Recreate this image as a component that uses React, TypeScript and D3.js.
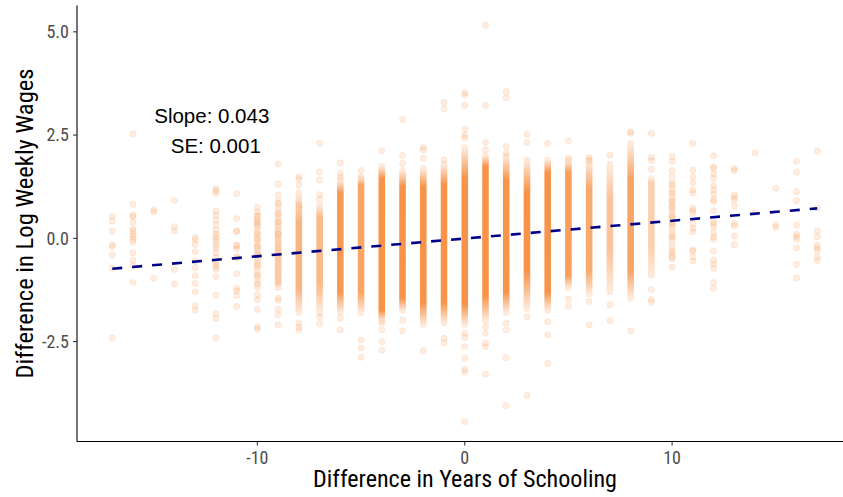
import React from 'react';
import * as d3 from 'd3';

// x = difference in years of schooling (one column of points per value)
const schoolingDiff = [-17, -16, -15, -14, -13, -12, -11, -10, -9, -8, -7, -6, -5, -4, -3, -2, -1, 0, 1, 2, 3, 4, 5, 6, 7, 8, 9, 10, 11, 12, 13, 14, 15, 16, 17];

// outer range where points overlap lightly
const spreadRange: ([number, number] | null)[] = [
  null, null, null, null, null, null, null,
  [-1.2, 0.55], [-1.2, 0.9], [-1.8, 1.1], [-1.8, 0.8], [-1.8, 1.4], [-1.8, 1.45], [-2.0, 1.75],
  [-1.75, 1.65], [-2.1, 1.7], [-2.05, 1.8], [-2.1, 2.2], [-2.0, 2.0], [-1.8, 2.0], [-1.7, 1.9],
  [-1.75, 1.9], [-1.2, 1.9], [-1.35, 1.9], [-1.3, 1.8], [-1.45, 2.3], [-0.9, 1.45], [-0.5, 1.5],
  null, null, null, null, null, null, null,
];

// inner range where points pile up into a solid stripe
const denseRange: ([number, number] | null)[] = [
  null, null, null, null, null, null, null,
  null, [-1.1, -0.2], [-1.2, 0.4], [-1.1, 0.5], [-1.3, 1.1], [-1.3, 1.3], [-1.75, 1.45],
  [-1.45, 1.25], [-1.55, 1.25], [-1.55, 1.3], [-1.6, 1.45], [-1.4, 1.75], [-1.3, 1.4], [-0.8, 1.15],
  [-1.3, 1.6], [-0.9, 1.6], [-0.8, 1.2], [-0.3, 1.0], [-0.8, 1.45], [-0.2, 1.35], null,
  null, null, null, null, null, null, null,
];
const denseShare = [
  0, 0, 0, 0, 0, 0, 0,
  0, 0.5, 0.7, 0.65, 0.95, 0.85, 1,
  1, 1, 1, 1, 1, 1, 1,
  1, 0.9, 0.8, 0.55, 0.85, 0.45, 0,
  0, 0, 0, 0, 0, 0, 0,
];

// individually visible points (difference in log weekly wages)
const loosePoints: number[][] = [
  [0.54, 0.42, 0.18, -0.16, -0.2, -0.4, -0.72, -2.41],
  [2.53, 0.82, 0.56, 0.52, 0.39, 0.23, 0.18, 0.1, 0.04, -0.03, -0.09, -0.35, -0.53, -0.66, -1.07],
  [0.69, 0.64, -0.97],
  [0.92, 0.28, 0.18, -0.75, -1.11],
  [0.02, -0.04, -0.15, -0.32, -0.55, -0.71, -0.9, -1.09, -1.29, -1.63, -1.74],
  [1.21, 1.15, 1.09, 0.66, 0.56, 0.44, 0.32, 0.2, 0.1, 0.04, -0.02, -0.09, -0.18, -0.24, -0.35, -0.46, -0.55, -0.63, -0.69, -0.75, -0.93, -1.37, -1.82, -1.94, -2.41],
  [1.08, 0.48, 0.18, 0.16, -0.16, -0.19, -0.25, -0.44, -0.48, -0.86, -1.21, -1.27, -1.39, -1.65],
  [0.75, 0.64, 0.54, 0.45, 0.38, 0.3, 0.12, -0.02, -0.2, -0.4, -0.65, -0.9, -1.1, -1.37, -1.49, -1.72, -2.14, -2.2],
  [1.8, 1.31, 1.05, 0.85, 0.6, 0.4, 0.1, -1.45, -1.5, -1.72, -1.85, -2.1],
  [1.49, 1.43, 1.29, 0.8, -2.05, -2.15, -2.22],
  [2.3, 1.61, 1.41, 1.06, 0.95, -1.9, -2.06],
  [1.83, 1.57, 1.48, -1.94, -2.22],
  [1.64, 1.48, -2.46, -2.66, -2.88],
  [2.12, -2.05, -2.22, -2.5, -2.71],
  [2.88, 2.01, 1.82, -1.98, -2.24],
  [2.2, 2.14, 1.94, -2.72],
  [3.29, 3.14, 1.9, -2.42, -2.53],
  [3.53, 3.47, 3.22, 2.64, 2.5, 2.43, -2.3, -2.4, -2.62, -2.9, -3.17, -3.24, -4.44],
  [5.16, 3.22, 2.32, 2.14, -2.14, -2.3, -2.54, -2.62, -3.29],
  [3.55, 3.4, 2.22, 2.06, -2.05, -2.22, -2.89, -4.05],
  [2.52, 2.32, -1.9, -3.8],
  [2.3, -2.02, -2.34, -3.03],
  [2.36, 1.94, -1.47, -1.64],
  [1.96, 1.88, -1.53, -2.1],
  [2.02, -1.61, -1.99],
  [2.58, 2.54, -2.24],
  [2.54, 1.96, 1.88, 1.67, -1.24, -1.48, -1.55],
  [1.98, 1.86, 1.64, 1.3, 1.1, 0.9, 0.75, 0.5, 0.35, 0.04, -0.32, -0.45, -0.69],
  [2.3, 1.65, 1.49, 1.35, 1.17, 1.1, 0.73, 0.67, 0.61, 0.36, 0.24, 0.16, -0.28, -0.31, -0.45, -0.55],
  [2.0, 1.73, 1.69, 1.56, 1.45, 1.27, 1.17, 1.07, 0.94, 0.89, 0.67, 0.4, 0.35, 0.28, 0.14, 0.04, -0.02, -0.31, -0.53, -0.62, -0.73, -1.07, -1.21],
  [1.69, 1.64, 1.05, 0.99, 0.93, 0.78, 0.36, 0.3, 0.06, -0.16],
  [2.07, 0.61],
  [1.21, 0.32, 0.26],
  [1.86, 1.6, 1.13, 0.91, 0.32, 0.1, 0.04, -0.02, -0.23, -0.63, -0.96],
  [2.11, 0.73, 0.18, 0.04, -0.16, -0.23, -0.3, -0.45, -0.54],
];

const slope = 0.043;
const slopeSE = 0.001;
const intercept = -0.005;
const yTicks = [-2.5, 0, 2.5, 5];
const xTicks = [-10, 0, 10];

const W = 843;
const H = 497;
const dotColor = '#f7944a';
const spreadAlpha = 0.32;
const condensed = '"Roboto Condensed", Roboto, "DejaVu Sans Condensed", sans-serif';

export default function App() {
  const x = d3.scaleLinear().domain([-18.7, 18.7]).range([77, 852.5]);
  const y = d3.scaleLinear().domain([-4.92, 5.64]).range([441.5, 5.4]);

  const fitLine = d3.line<number>()
    .x(d => x(d))
    .y(d => y(intercept + slope * d));
  const xExtent = d3.extent(schoolingDiff) as [number, number];

  const left = x.range()[0];
  const bottom = y.range()[0];

  return (
    <svg width={W} height={H} style={{ position: 'absolute', left: 0, top: 0, background: '#fff' }}>
      <defs>
        {schoolingDiff.map((sd, i) => {
          const sr = spreadRange[i];
          const dr = denseRange[i];
          if (!sr) return null;
          const top = y(sr[1]);
          const bot = y(sr[0]);
          const off = (v: number) => (y(v) - top) / (bot - top);
          const a = denseShare[i];
          return (
            <linearGradient key={sd} id={`col${i}`} gradientUnits="userSpaceOnUse"
              x1={0} x2={0} y1={top} y2={bot}>
              <stop offset={0} stopColor={dotColor} stopOpacity={spreadAlpha * 0.6} />
              {dr && <stop offset={off(dr[1])} stopColor={dotColor} stopOpacity={a} />}
              {dr && <stop offset={off(dr[0])} stopColor={dotColor} stopOpacity={a} />}
              {!dr && <stop offset={0.5} stopColor={dotColor} stopOpacity={spreadAlpha} />}
              <stop offset={1} stopColor={dotColor} stopOpacity={spreadAlpha * 0.6} />
            </linearGradient>
          );
        })}
      </defs>

      {/* point columns */}
      <g>
        {schoolingDiff.map((sd, i) => {
          const sr = spreadRange[i];
          return (
            <g key={sd}>
              {sr && (
                <line x1={x(sd)} x2={x(sd) + 0.01} y1={y(sr[0])} y2={y(sr[1])}
                  stroke={`url(#col${i})`} strokeWidth={6.6} strokeLinecap="round" />
              )}
              {loosePoints[i].map((v, j) => (
                <circle key={j} cx={x(sd)} cy={y(v)} r={3.1}
                  fill={dotColor} fillOpacity={0.17}
                  stroke={dotColor} strokeOpacity={0.17} strokeWidth={0.8} />
              ))}
            </g>
          );
        })}
      </g>

      {/* regression line */}
      <path d={fitLine(xExtent) || ''} fill="none" stroke="#00008b" strokeWidth={2.6}
        strokeDasharray="10,10" />

      {/* annotation */}
      <g fontFamily='"Liberation Sans", Arial, sans-serif' fontSize={20.5} fill="#000" textAnchor="middle">
        <text x={x(-12.2)} y={y(2.5) - 12}>{`Slope: ${slope.toFixed(3)}`}</text>
        <text x={x(-12.2) + 4} y={y(2.5) + 18}>{`SE: ${slopeSE.toFixed(3)}`}</text>
      </g>

      {/* axes */}
      <line x1={left} x2={left} y1={y.range()[1]} y2={bottom} stroke="#000" strokeWidth={1.1} />
      <line x1={left} x2={W} y1={bottom} y2={bottom} stroke="#000" strokeWidth={1.1} />

      <g fontFamily={condensed} fontSize={18} fill="#4d4d4d">
        {yTicks.map(t => (
          <g key={t}>
            <line x1={left - 4} x2={left} y1={y(t)} y2={y(t)} stroke="#333" strokeWidth={1.1} />
            <text x={left - 8} y={y(t)} dy="0.35em" textAnchor="end">{t.toFixed(1)}</text>
          </g>
        ))}
        {xTicks.map(t => (
          <g key={t}>
            <line x1={x(t)} x2={x(t)} y1={bottom} y2={bottom + 4} stroke="#333" strokeWidth={1.1} />
            <text x={x(t)} y={bottom + 22} textAnchor="middle">{String(t)}</text>
          </g>
        ))}
      </g>

      <text x={465} y={487} textAnchor="middle" fontFamily={condensed} fontSize={23} fill="#000"
        textLength={304} lengthAdjust="spacingAndGlyphs">Difference in Years of Schooling</text>
      <text transform={`translate(33, ${(y.range()[1] + bottom) / 2}) rotate(-90)`} textAnchor="middle"
        fontFamily={condensed} fontSize={23} fill="#000"
        textLength={310} lengthAdjust="spacingAndGlyphs">Difference in Log Weekly Wages</text>
    </svg>
  );
}
